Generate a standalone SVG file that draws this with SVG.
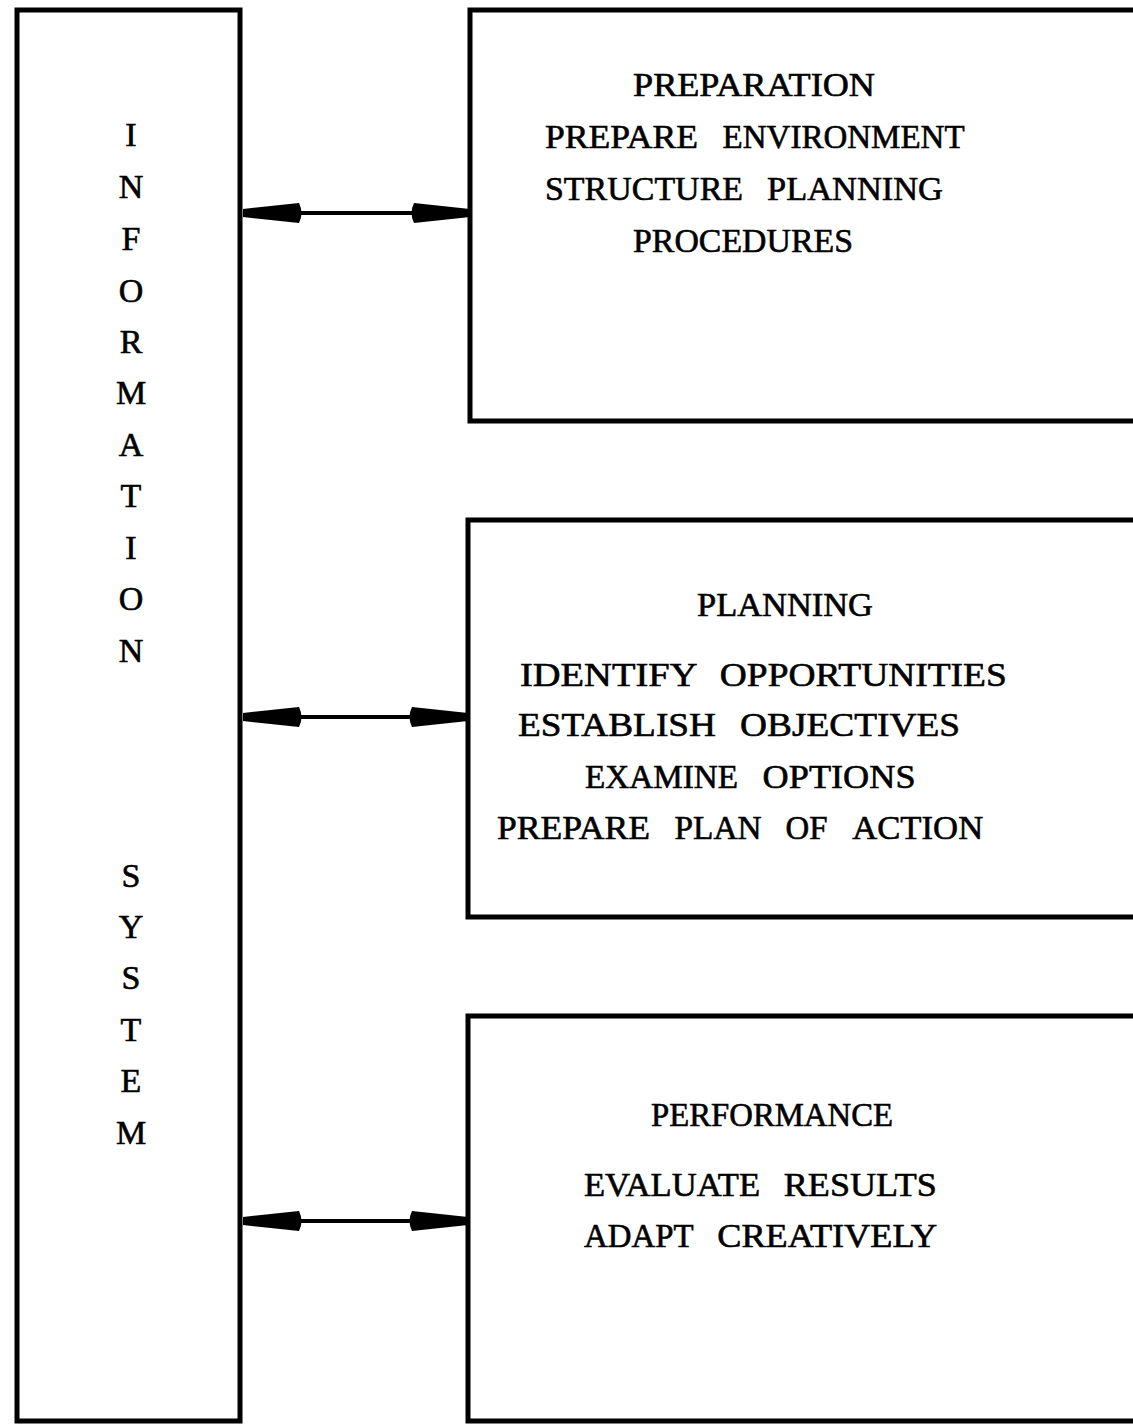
<svg xmlns="http://www.w3.org/2000/svg" xmlns:xlink="http://www.w3.org/1999/xlink" width="1133" height="1424" viewBox="0 0 1133 1424">
  <style>
    .box { fill: #ffffff; stroke: #000000; stroke-width: 5; }
    .label { font-family: "Liberation Serif", "Times New Roman", serif; font-size: 34px; fill: #000000; stroke: #000000; stroke-width: 0.6; }
    .mid { text-anchor: middle; }
    .shaft { stroke: #000000; stroke-width: 4; fill: none; }
    .head { fill: #000000; }
  </style>
  <defs>
    <!-- tapered arrowhead, tip at origin pointing left -->
    <path id="head" class="head" d="M0,-4 L56,-10 Q61,0 56,10 L0,4 Z"/>
  </defs>
  <rect width="1133" height="1424" fill="#ffffff"/>

  <!-- vertical side bar -->
  <g id="information-system">
    <rect class="box" x="17" y="10" width="223" height="1411"/>
    <g class="label mid">
      <text x="131" y="146">I</text>
      <text x="131" y="198">N</text>
      <text x="131" y="250">F</text>
      <text x="131" y="302">O</text>
      <text x="131" y="353">R</text>
      <text x="131" y="404">M</text>
      <text x="131" y="456">A</text>
      <text x="131" y="507">T</text>
      <text x="131" y="559">I</text>
      <text x="131" y="610">O</text>
      <text x="131" y="662">N</text>
      <text x="131" y="887">S</text>
      <text x="131" y="938">Y</text>
      <text x="131" y="989">S</text>
      <text x="131" y="1041">T</text>
      <text x="131" y="1092">E</text>
      <text x="131" y="1144">M</text>
    </g>
  </g>

  <!-- words sit on a fixed 22.2px typewriter pitch -->
  <g id="preparation">
    <rect class="box" x="470" y="10" width="700" height="411"/>
    <g class="label">
      <text y="96"><tspan x="633" textLength="242" lengthAdjust="spacingAndGlyphs">PREPARATION</tspan></text>
      <text y="148"><tspan x="545" textLength="153" lengthAdjust="spacingAndGlyphs">PREPARE</tspan> <tspan x="722.6" textLength="242" lengthAdjust="spacingAndGlyphs">ENVIRONMENT</tspan></text>
      <text y="200"><tspan x="545" textLength="198" lengthAdjust="spacingAndGlyphs">STRUCTURE</tspan> <tspan x="767" textLength="176" lengthAdjust="spacingAndGlyphs">PLANNING</tspan></text>
      <text y="252"><tspan x="633" textLength="220" lengthAdjust="spacingAndGlyphs">PROCEDURES</tspan></text>
    </g>
  </g>

  <g id="planning">
    <rect class="box" x="468" y="520" width="700" height="397"/>
    <g class="label">
      <text y="616"><tspan x="697" textLength="176" lengthAdjust="spacingAndGlyphs">PLANNING</tspan></text>
      <text y="686"><tspan x="520" textLength="176" lengthAdjust="spacingAndGlyphs">IDENTIFY</tspan> <tspan x="719.8" textLength="287" lengthAdjust="spacingAndGlyphs">OPPORTUNITIES</tspan></text>
      <text y="736"><tspan x="518" textLength="198" lengthAdjust="spacingAndGlyphs">ESTABLISH</tspan> <tspan x="740" textLength="220" lengthAdjust="spacingAndGlyphs">OBJECTIVES</tspan></text>
      <text y="788"><tspan x="585" textLength="153" lengthAdjust="spacingAndGlyphs">EXAMINE</tspan> <tspan x="762.6" textLength="153" lengthAdjust="spacingAndGlyphs">OPTIONS</tspan></text>
      <text y="839"><tspan x="497" textLength="153" lengthAdjust="spacingAndGlyphs">PREPARE</tspan> <tspan x="674.6" textLength="87" lengthAdjust="spacingAndGlyphs">PLAN</tspan> <tspan x="785.6" textLength="42" lengthAdjust="spacingAndGlyphs">OF</tspan> <tspan x="852.2" textLength="131" lengthAdjust="spacingAndGlyphs">ACTION</tspan></text>
    </g>
  </g>

  <g id="performance">
    <rect class="box" x="468" y="1016" width="700" height="405"/>
    <g class="label">
      <text y="1126"><tspan x="651" textLength="242" lengthAdjust="spacingAndGlyphs">PERFORMANCE</tspan></text>
      <text y="1196"><tspan x="584" textLength="176" lengthAdjust="spacingAndGlyphs">EVALUATE</tspan> <tspan x="783.8" textLength="153" lengthAdjust="spacingAndGlyphs">RESULTS</tspan></text>
      <text y="1247"><tspan x="584" textLength="109" lengthAdjust="spacingAndGlyphs">ADAPT</tspan> <tspan x="717.2" textLength="220" lengthAdjust="spacingAndGlyphs">CREATIVELY</tspan></text>
    </g>
  </g>

  <!-- two-way links between the side bar and each stage -->
  <g id="connectors">
    <g id="link-preparation">
      <line class="shaft" x1="290" y1="213" x2="420" y2="213"/>
      <use xlink:href="#head" transform="translate(243,213)"/>
      <use xlink:href="#head" transform="translate(470,213) scale(-1,1)"/>
    </g>
    <g id="link-planning">
      <line class="shaft" x1="290" y1="717" x2="420" y2="717"/>
      <use xlink:href="#head" transform="translate(243,717)"/>
      <use xlink:href="#head" transform="translate(468,717) scale(-1,1)"/>
    </g>
    <g id="link-performance">
      <line class="shaft" x1="290" y1="1221" x2="420" y2="1221"/>
      <use xlink:href="#head" transform="translate(243,1221)"/>
      <use xlink:href="#head" transform="translate(468,1221) scale(-1,1)"/>
    </g>
  </g>
</svg>
